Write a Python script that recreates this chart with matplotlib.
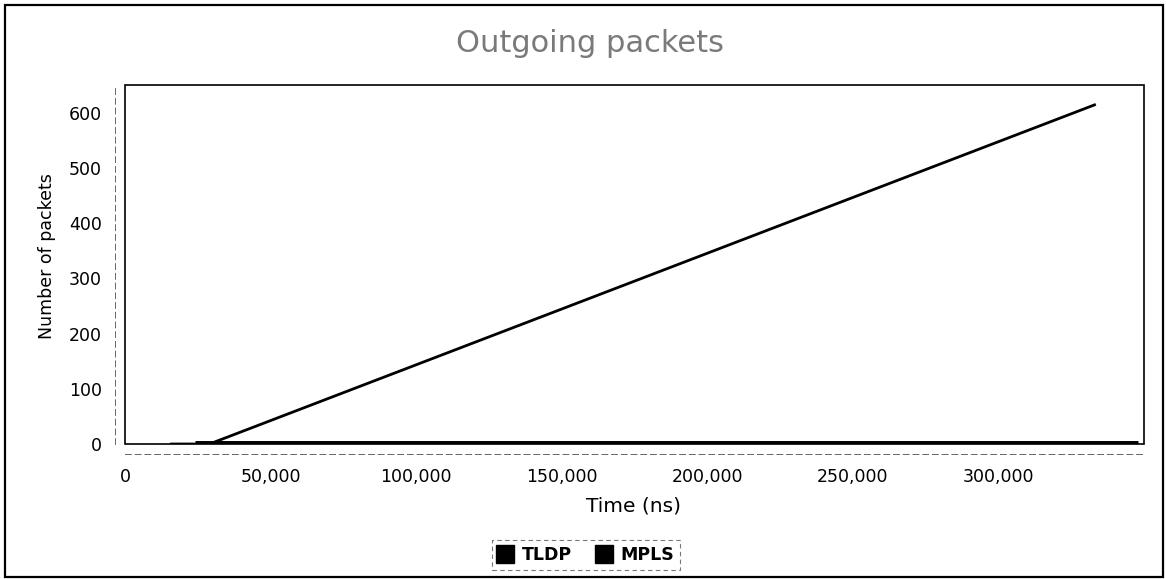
import matplotlib
matplotlib.use("Agg")
import matplotlib.pyplot as plt
from matplotlib.lines import Line2D
from matplotlib.patches import Rectangle
from matplotlib.ticker import FuncFormatter

plt.rcParams['font.family'] = ['DejaVu Sans']

# Series data (time in ns, cumulative packet count)
tldp_time = [16000, 29000, 333000]
tldp_packets = [0, 0, 614]
mpls_time = [24000, 333000, 348000]
mpls_packets = [0, 0, 0]

series_names = ["TLDP", "MPLS"]
title_text = "Outgoing packets"
x_label = "Time (ns)"
y_label = "Number of packets"
x_ticks = [0, 50000, 100000, 150000, 200000, 250000, 300000]
y_ticks = [0, 100, 200, 300, 400, 500, 600]

W, H = 1166, 579
fig = plt.figure(figsize=(W / 100, H / 100), dpi=100)
fig.patch.set_facecolor("white")

# outer frame around the whole chart
fig.add_artist(Rectangle((5 / W, 2 / H), 1158 / W, 572 / H, transform=fig.transFigure,
                         fill=False, edgecolor="black", linewidth=1.6))

ax = fig.add_axes([125 / W, 1 - 444 / H, 1019 / W, 359 / H])
ax.set_xlim(690, 350000)
ax.set_ylim(0, 650)

ax.plot(mpls_time, mpls_packets, color="black", linewidth=5, solid_capstyle="butt", zorder=2)
ax.plot(tldp_time, tldp_packets, color="black", linewidth=2, zorder=3)

# plot area outline
ax.add_patch(Rectangle((0, 0), 1, 1, transform=ax.transAxes, fill=False,
                       edgecolor="black", linewidth=1.2, clip_on=False, zorder=5))

for side in ("top", "right"):
    ax.spines[side].set_visible(False)
for side in ("left", "bottom"):
    ax.spines[side].set_position(("outward", 7.5))
    ax.spines[side].set_linestyle((0, (6, 4)))
    ax.spines[side].set_color("#666666")
    ax.spines[side].set_linewidth(0.7)

ax.set_xticks(x_ticks)
ax.set_yticks(y_ticks)
ax.xaxis.set_major_formatter(FuncFormatter(lambda v, p: f"{int(v):,}"))
ax.tick_params(axis="both", length=0, labelsize=12.5, colors="black")
ax.tick_params(axis="x", pad=10)
ax.tick_params(axis="y", pad=9)

fig.text(47 / W, 1 - 256 / H, y_label, rotation=90, ha="center", va="center", fontsize=12.5)
fig.text(633 / W, 1 - 506 / H, x_label, ha="center", va="center", fontsize=14.5)
fig.text(590 / W, 1 - 43 / H, title_text, ha="center", va="center", fontsize=22,
         color="#7a7a7a")

handles = [Line2D([], [], marker="s", color="black", linestyle="none", markersize=13)
           for _ in series_names]
leg = fig.legend(handles, series_names, ncol=2, loc="center",
                 bbox_to_anchor=(586 / W, 1 - 555 / H), frameon=True, fancybox=False,
                 handlelength=0.9, handletextpad=0.5, columnspacing=1.4,
                 borderpad=0.35, prop={"size": 12.5, "weight": "bold"})
frame = leg.get_frame()
frame.set_edgecolor("#555555")
frame.set_linestyle((0, (4, 3)))
frame.set_linewidth(0.8)

fig.savefig("out.png", dpi=100, facecolor="white")
